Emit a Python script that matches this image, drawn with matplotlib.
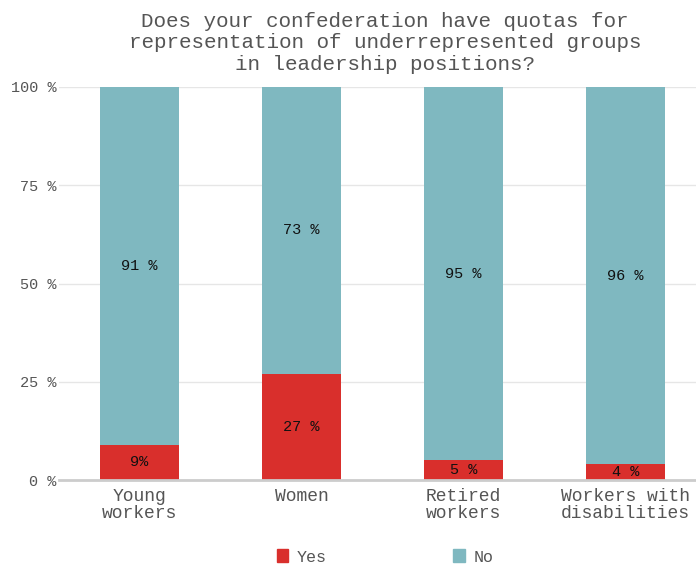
import matplotlib
matplotlib.use("Agg")
import matplotlib.pyplot as plt
from matplotlib.patches import Patch

# data
categories = ["Young\nworkers", "Women", "Retired\nworkers", "Workers with\ndisabilities"]
yes_vals = [9, 27, 5, 4]
no_vals = [91, 73, 95, 96]
yes_labels = ["9%", "27 %", "5 %", "4 %"]
no_labels = ["91 %", "73 %", "95 %", "96 %"]

RED = "#d92f2c"
TEAL = "#7fb8c0"
GREY = "#555555"
FONT = ["Liberation Mono", "DejaVu Sans Mono"]

plt.rcParams['font.family'] = FONT

fig = plt.figure(figsize=(6.96, 5.66), dpi=100)
ax = fig.add_axes([59 / 696, (566 - 480) / 566, 1 - 59 / 696, (480 - 87) / 566])

x = list(range(len(categories)))
ax.bar(x, yes_vals, width=0.49, color=RED, zorder=3)
ax.bar(x, no_vals, width=0.49, bottom=yes_vals, color=TEAL, zorder=3)

for i in x:
    ax.text(i, yes_vals[i] / 2, yes_labels[i], ha="center", va="center",
            fontsize=11, color="#111111", zorder=4)
    ax.text(i, yes_vals[i] + no_vals[i] / 2, no_labels[i], ha="center", va="center",
            fontsize=11, color="#111111", zorder=4)

ax.set_xlim(-0.497, 3.435)
ax.set_ylim(0, 100)
ax.set_yticks([0, 25, 50, 75, 100])
ax.set_yticklabels(["0 %", "25 %", "50 %", "75 %", "100 %"], fontsize=11, color=GREY)
ax.set_xticks(x)
ax.set_xticklabels(categories, fontsize=13, color=GREY, linespacing=0.95)
ax.tick_params(axis="y", length=0, pad=2)
ax.tick_params(axis="x", length=0, pad=6)
ax.grid(axis="y", color="#e6e6e6", linewidth=1, zorder=0)

for side in ["top", "right", "left"]:
    ax.spines[side].set_visible(False)
ax.spines["bottom"].set_color("#cccccc")
ax.spines["bottom"].set_linewidth(2)
ax.spines["bottom"].set_zorder(5)

fig.text(385 / 696, 1 - 12 / 566,
         "Does your confederation have quotas for\nrepresentation of underrepresented groups\nin leadership positions?",
         ha="center", va="top", fontsize=15, color=GREY, linespacing=1.15)

handles = [Patch(color=RED, label="Yes"), Patch(color=TEAL, label="No")]
fig.legend(handles=handles, loc="center", bbox_to_anchor=(385 / 696, 1 - 557 / 566),
           ncol=2, frameon=False, fontsize=12, handlelength=0.7, handleheight=0.8,
           handletextpad=0.5, columnspacing=7.6, labelcolor=GREY)

fig.savefig("out.png", dpi=100)
